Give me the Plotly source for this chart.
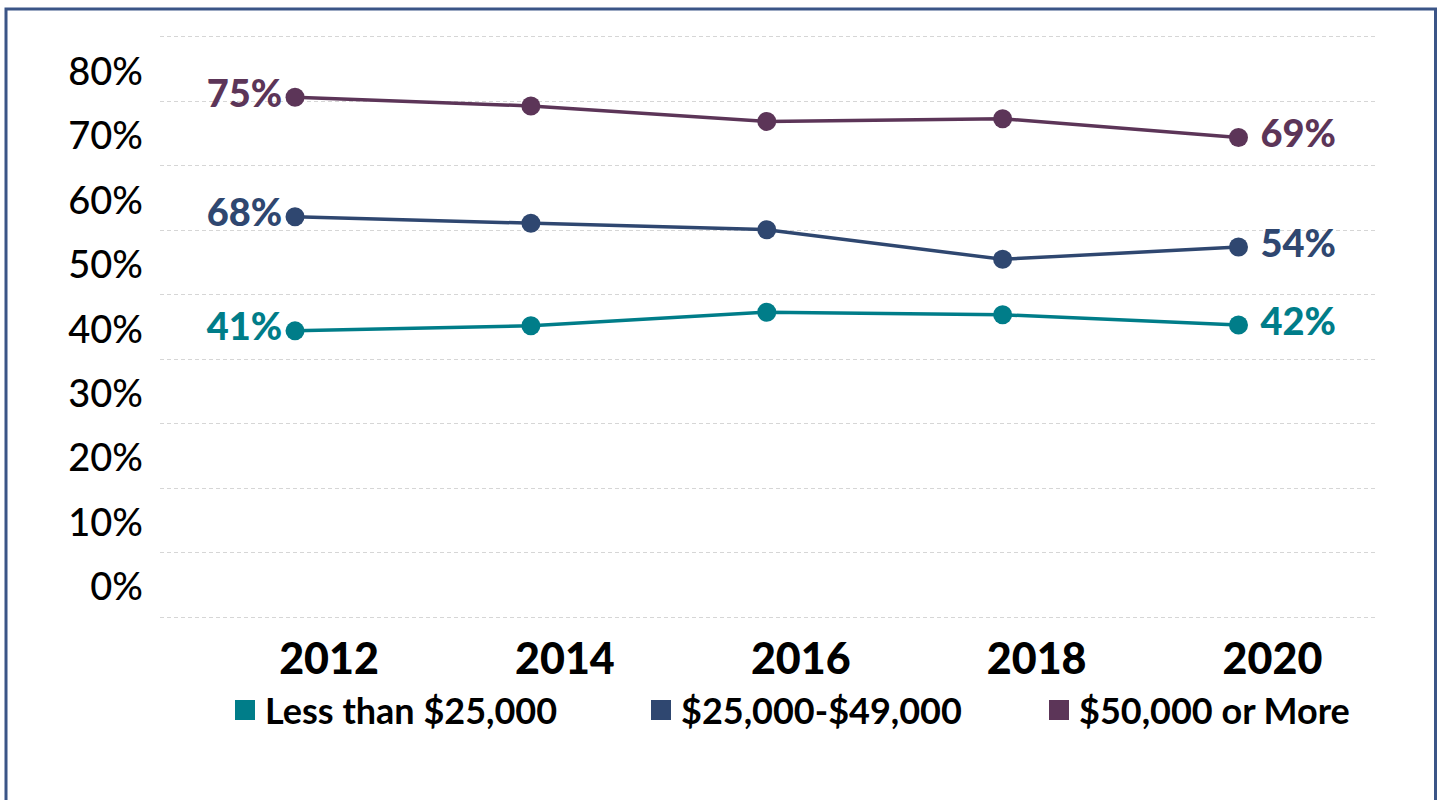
import plotly.graph_objects as go

# ---- data ----
years = [2012, 2014, 2016, 2018, 2020]
series_names = ["Less than $25,000", "$25,000-$49,000", "$50,000 or More"]
low_income = [44.4, 45.2, 47.3, 46.9, 45.3]
mid_income = [62.1, 61.1, 60.1, 55.5, 57.4]
high_income = [80.65, 79.3, 76.9, 77.3, 74.4]
low_labels = ["41%", "", "", "", "42%"]
mid_labels = ["68%", "", "", "", "54%"]
high_labels = ["75%", "", "", "", "69%"]
y_tick_vals = [0, 10, 20, 30, 40, 50, 60, 70, 80, 90]
y_tick_text = ["0%", "10%", "20%", "30%", "40%", "50%", "60%", "70%", "80%", ""]

colors = ["#007D89", "#2F4770", "#5C3558"]
series_values = [low_income, mid_income, high_income]
series_labels = [low_labels, mid_labels, high_labels]

W, H = 1440, 800
ML, MR, MT, MB = 160, 64, 30, 175
PW, PH = W - ML - MR, H - MT - MB


def px_x(p):
    return (p - ML) / PW


def px_y(p):
    return (H - MB - p) / PH


fig = go.Figure()
text_pos = ["middle left", "middle center", "middle center", "middle center", "middle right"]

for name, vals, labs, col in zip(series_names, series_values, series_labels, colors):
    # small non-breaking gap before right-hand labels, as in the reference
    shown = [("\u00a0" + t) if (i == len(labs) - 1 and t) else t for i, t in enumerate(labs)]
    fig.add_trace(go.Scatter(
        x=years, y=vals, mode="lines+markers+text",
        line=dict(color=col, width=3.5),
        marker=dict(color=col, size=19),
        text=shown, textposition=text_pos,
        textfont=dict(family="Lato", size=38, color=col, weight=900),
        showlegend=False, hoverinfo="skip", cliponaxis=False,
    ))

legend_ids = ["legend", "legend2", "legend3"]
legend_left_px = [225, 641, 1039]
for name, col, lid in zip(series_names, colors, legend_ids):
    fig.add_trace(go.Scatter(
        x=[None], y=[None], mode="markers", name=name,
        marker=dict(symbol="square", color=col, size=16, line=dict(color=col, width=4)),
        legend=lid, showlegend=True,
    ))

legend_common = dict(
    orientation="h", xanchor="left", yanchor="middle", y=px_y(710),
    font=dict(family="Lato", size=36, color="#000000", weight=700),
    bgcolor="rgba(0,0,0,0)", itemwidth=30, borderwidth=0,
)

fig.update_layout(
    width=W, height=H,
    margin=dict(l=ML, r=MR, t=MT, b=MB, pad=0),
    paper_bgcolor="white", plot_bgcolor="white",
    xaxis=dict(
        range=[2010.855, 2021.166], tickvals=years, ticktext=[str(y) for y in years],
        showgrid=False, zeroline=False, showline=False, ticks="",
        tickfont=dict(family="Lato", size=43, color="#000000", weight=900),
        ticklabelshift=34, ticklabelstandoff=5,
    ),
    yaxis=dict(
        range=[-1.24, 91.08], tickvals=y_tick_vals, ticktext=y_tick_text,
        showgrid=True, gridcolor="#D6D6D6", gridwidth=1, griddash="4px,3px",
        zeroline=False, showline=False, ticks="",
        tickfont=dict(family="Lato", size=38, color="#000000", weight=500),
        ticklabelshift=-30, ticklabelstandoff=16,
    ),
    legend=dict(legend_common, x=px_x(legend_left_px[0])),
    legend2=dict(legend_common, x=px_x(legend_left_px[1])),
    legend3=dict(legend_common, x=px_x(legend_left_px[2])),
    shapes=[dict(
        type="rect", xref="paper", yref="paper",
        x0=px_x(6), x1=px_x(1435.5), y0=px_y(830), y1=px_y(9),
        line=dict(color="#3B5587", width=3), fillcolor="rgba(0,0,0,0)", layer="above",
    )],
)

fig.write_html("out.html")
